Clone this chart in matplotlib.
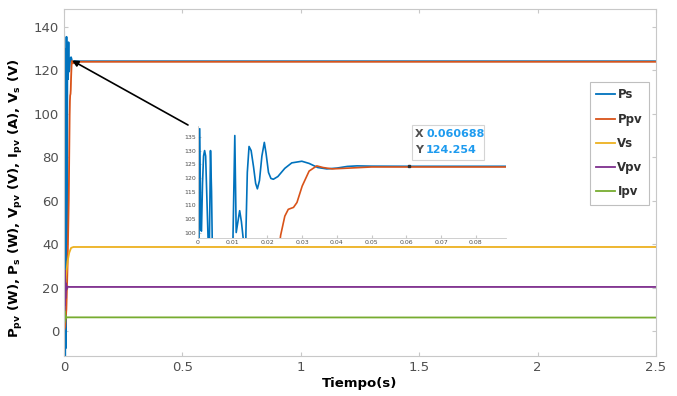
import matplotlib
matplotlib.use("Agg")
import matplotlib.pyplot as plt
from matplotlib.patches import FancyBboxPatch

# ── Data ───────────────────────────────────────────────────────────────────
t_ps = [0, 0.0003, 0.0005, 0.0008, 0.0010, 0.0013, 0.0016, 0.0019, 0.0022, 0.0025,
        0.0029, 0.0031, 0.0033, 0.0036, 0.0039, 0.0041, 0.0045, 0.0050, 0.0058,
        0.0066, 0.0075, 0.0085, 0.0095, 0.0101, 0.0106, 0.0110, 0.0115, 0.0120,
        0.0125, 0.0130, 0.0134, 0.0138, 0.0142, 0.0147, 0.0153, 0.0160, 0.0166,
        0.0171, 0.0177, 0.0184, 0.0191, 0.0196, 0.0203, 0.0210, 0.0217, 0.0230,
        0.0250, 0.0270, 0.0299, 0.0320, 0.0345, 0.0371, 0.0400, 0.0430, 0.0458,
        0.0500, 0.0607, 2.5]
ps = [-12, 100, 138, 101, 100.5, 118, 128, 130, 128, 115,
      98, 40, 98, 130, 115, 97, 20, -12, 50,
      -8, 70, 0, 60, 100, 135.5, 100, 104, 108,
      104, 98, 40, 100, 122, 131.5, 130, 124, 118,
      116, 119, 128, 133, 129, 122, 119.8, 119.5, 120.5,
      123.5, 125.5, 126.1, 125.3, 123.8, 123.3, 123.6, 124.2, 124.4,
      124.3, 124.25, 124.25]

t_ppv = [0, 0.005, 0.010, 0.015, 0.020, 0.0238, 0.0250, 0.0260, 0.0275, 0.0285,
         0.0300, 0.0320, 0.0342, 0.0360, 0.0386, 0.0420, 0.0500, 0.0607, 2.5]
ppv = [0, 2, 10, 30, 60, 99, 106, 108.5, 109.2, 111,
       117, 122.5, 124.4, 123.8, 123.3, 123.5, 124.0, 124.0, 124.0]

t_vs = [0, 0.003, 0.008, 0.015, 0.022, 0.030, 0.040, 2.5]
vs = [0, 10, 25, 32, 36, 38.3, 38.7, 38.7]

t_vpv = [0, 0.001, 0.002, 0.003, 0.004, 0.005, 0.006, 0.008, 0.010, 0.014, 0.020, 2.5]
vpv = [5, 25, 8, 28, 12, 24, 15, 22, 19, 20.5, 20.3, 20.3]

t_ipv = [0, 0.001, 0.002, 0.003, 0.004, 0.006, 0.008, 0.012, 2.5]
ipv = [5, 10, 4, 9, 5, 7.5, 5.8, 6.3, 6.2]

tip_x, tip_y = 0.060688, 124.254
x_ticks = [0, 0.5, 1, 1.5, 2, 2.5]
y_ticks = [0, 20, 40, 60, 80, 100, 120, 140]
in_xticks = [0, 0.01, 0.02, 0.03, 0.04, 0.05, 0.06, 0.07, 0.08]
in_yticks = [100, 105, 110, 115, 120, 125, 130, 135]

C_PS = "#0072BD"
C_PPV = "#D95319"
C_VS = "#EDB120"
C_VPV = "#7E2F8E"
C_IPV = "#77AC30"
C_TICK = "#505050"
C_SPINE = "#c8c8c8"

fig = plt.figure(figsize=(6.77, 3.96), dpi=100)
ax = fig.add_axes([64 / 677, 1 - 356 / 396, 592 / 677, 347 / 396])

ax.plot(t_ps, ps, color=C_PS, lw=1.3, label="Ps")
ax.plot(t_ppv, ppv, color=C_PPV, lw=1.3, label="Ppv")
ax.plot(t_vs, vs, color=C_VS, lw=1.3, label="Vs")
ax.plot(t_vpv, vpv, color=C_VPV, lw=1.3, label="Vpv")
ax.plot(t_ipv, ipv, color=C_IPV, lw=1.3, label="Ipv")

ax.set_xlim(0, 2.5)
ax.set_ylim(-11.5, 148.3)
ax.set_xticks(x_ticks)
ax.set_xticklabels(["0", "0.5", "1", "1.5", "2", "2.5"])
ax.set_yticks(y_ticks)
ax.tick_params(direction="in", top=True, right=True, colors=C_SPINE,
               labelcolor=C_TICK, labelsize=9.5, length=3)
for s in ax.spines.values():
    s.set_color(C_SPINE)
ax.set_xlabel("Tiempo(s)", fontsize=9.5, fontweight="bold", labelpad=2)
ax.set_ylabel(r"P$_{\mathbf{pv}}$ (W), P$_{\mathbf{s}}$ (W), V$_{\mathbf{pv}}$ (V), "
              r"I$_{\mathbf{pv}}$ (A), V$_{\mathbf{s}}$ (V)",
              fontsize=9.5, fontweight="bold")
ax.yaxis.set_label_coords(-0.066, 0.455)

leg = ax.legend(loc="upper right", bbox_to_anchor=(649 / 677, 1 - 82 / 396),
                bbox_transform=fig.transFigure, fontsize=8.5, frameon=True,
                fancybox=False, handlelength=1.6, handletextpad=0.2,
                labelspacing=0.95, borderpad=0.55, borderaxespad=0)
leg.get_frame().set_edgecolor("#b0b0b0")
leg.get_frame().set_linewidth(0.8)
for txt in leg.get_texts():
    txt.set_fontweight("bold")
    txt.set_color("#303030")

# ── Inset ──────────────────────────────────────────────────────────────────
axi = fig.add_axes([198 / 677, 1 - 238 / 396, 308 / 677, 112 / 396])
axi.plot(t_ps, ps, color=C_PS, lw=1.2)
axi.plot(t_ppv, ppv, color=C_PPV, lw=1.2)
axi.set_xlim(0, 0.0887)
axi.set_ylim(98, 139)
axi.set_xticks(in_xticks)
axi.set_xticklabels(["0"] + [f"{v:g}" for v in in_xticks[1:]])
axi.set_yticks(in_yticks)
axi.tick_params(direction="in", colors=C_SPINE, labelcolor=C_TICK,
                labelsize=4.5, length=2, pad=1.5)
axi.spines["top"].set_visible(False)
axi.spines["right"].set_visible(False)
for s in ("left", "bottom"):
    axi.spines[s].set_color(C_SPINE)
    axi.spines[s].set_linewidth(0.6)

# data tip
axi.plot([tip_x], [tip_y], "s", color="#303030", ms=2)
box = FancyBboxPatch((412 / 677, 1 - 160 / 396), 72 / 677, 35 / 396,
                     boxstyle="square,pad=0", transform=fig.transFigure,
                     facecolor="white", edgecolor="#d0d0d0", lw=0.8, alpha=0.9)
fig.add_artist(box)
fig.text(415 / 677, 1 - 134 / 396, "X", fontsize=8, fontweight="bold",
         color="#505050", va="center")
fig.text(426 / 677, 1 - 134 / 396, f"{tip_x:.6f}", fontsize=8, fontweight="bold",
         color="#1E9BEF", va="center")
fig.text(415 / 677, 1 - 150 / 396, "Y", fontsize=8, fontweight="bold",
         color="#505050", va="center")
fig.text(426 / 677, 1 - 150 / 396, f"{tip_y:.3f}", fontsize=8, fontweight="bold",
         color="#1E9BEF", va="center")

# zoom arrow
ax.annotate("", xy=(0.034, 124.6), xycoords="data",
            xytext=(188 / 677, 1 - 125 / 396), textcoords="figure fraction",
            arrowprops=dict(arrowstyle="-|>", color="black", lw=1.2,
                            mutation_scale=9, shrinkA=0, shrinkB=0))

fig.savefig("out.png", dpi=100)
